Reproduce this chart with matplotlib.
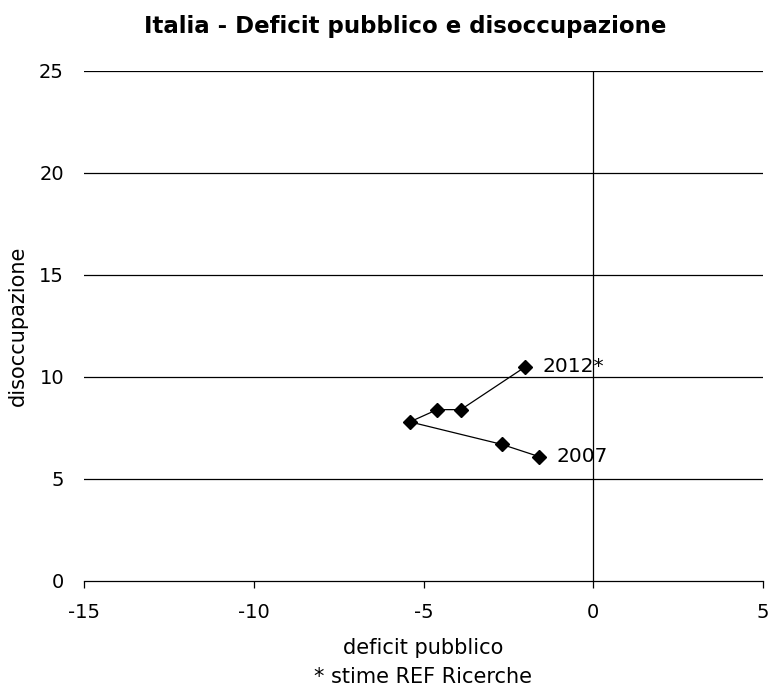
import matplotlib
matplotlib.use("Agg")
import matplotlib.pyplot as plt

# Data
years = ["2007", "2008", "2009", "2010", "2011", "2012*"]
deficit = [-1.6, -2.7, -5.4, -4.6, -3.9, -2.0]
disoccupazione = [6.1, 6.7, 7.8, 8.4, 8.4, 10.5]
x_ticks = [-15, -10, -5, 0, 5]
y_ticks = [0, 5, 10, 15, 20, 25]
labelled = {"2007": 0, "2012*": 5}

plt.rcParams['font.family'] = ['DejaVu Sans']

W, H = 773, 689
fig = plt.figure(figsize=(W / 100, H / 100), dpi=100)
L, R, T, B = 84, 763, 71, 581
ax = fig.add_axes([L / W, 1 - B / H, (R - L) / W, (B - T) / H])

ax.set_xlim(-15, 5)
ax.set_ylim(0, 25)

# gridlines
for y in y_ticks[1:]:
    ax.axhline(y, color='black', lw=0.9, zorder=1)
ax.axvline(0, color='black', lw=0.9, zorder=1)

ax.plot(deficit, disoccupazione, color='black', lw=0.9, marker='D', ms=7,
        markerfacecolor='black', zorder=3)

for name, idx in labelled.items():
    ax.annotate(name, (deficit[idx], disoccupazione[idx]), xytext=(12.5, 0),
                textcoords='offset points', va='center', ha='left', fontsize=14.5)

for s in ['top', 'right', 'left']:
    ax.spines[s].set_visible(False)
ax.spines['bottom'].set_linewidth(0.9)

ax.set_xticks(x_ticks)
ax.set_yticks(y_ticks)
ax.set_xticklabels([str(v) for v in x_ticks], fontsize=14)
ax.set_yticklabels([str(v) for v in y_ticks], fontsize=14)
ax.tick_params(axis='x', direction='out', length=5, width=0.9, pad=11)
ax.tick_params(axis='y', length=0, pad=14.4)

ax.set_xlabel("deficit pubblico", fontsize=15)
ax.xaxis.set_label_coords(0.5, (B - 648) / (B - T))
ax.xaxis.label.set_va('center')
ax.set_ylabel("disoccupazione", fontsize=15)
ax.yaxis.set_label_coords((18 - L) / (R - L), 0.5)
ax.yaxis.label.set_va('center')

fig.text((L + R) / 2 / W, 1 - 677 / H, "* stime REF Ricerche",
         ha='center', va='center', fontsize=15)

fig.text(405 / W, 1 - 27 / H, "Italia - Deficit pubblico e disoccupazione",
         ha='center', va='center', fontsize=16.5, fontweight='bold')

fig.savefig("out.png", dpi=100)
